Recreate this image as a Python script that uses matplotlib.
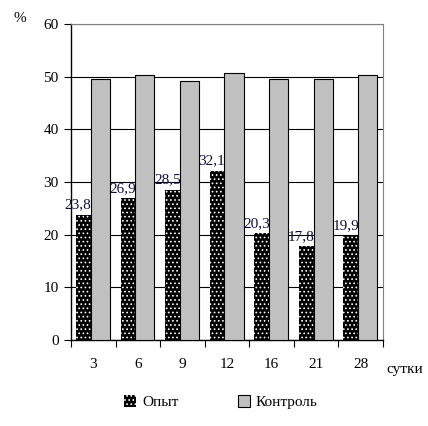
import numpy as np
import matplotlib.pyplot as plt

plt.rcParams['font.family'] = ['Liberation Serif', 'DejaVu Serif']
plt.rcParams['hatch.linewidth'] = 0.7

days = ['3', '6', '9', '12', '16', '21', '28']
opyt = [23.8, 26.9, 28.5, 32.1, 20.3, 17.8, 19.9]
kontrol = [49.5, 50.2, 49.2, 50.6, 49.6, 49.5, 50.2]
labels = ['23,8', '26,9', '28,5', '32,1', '20,3', '17,8', '19,9']

fig = plt.figure(figsize=(4.28, 4.26), dpi=100)
ax = fig.add_axes([0.166, 0.202, 0.729, 0.742])

x = np.arange(len(days))
bw = 0.33
gw = 0.43
left0 = -0.5 + 0.11

# black bars with fine white dots, grey bars with black outline
b1 = ax.bar(x + left0, opyt, width=bw, align='edge', color='black',
            edgecolor='white', linewidth=0, hatch='....', zorder=3)
b2 = ax.bar(x + left0 + bw, kontrol, width=gw, align='edge', color='#c0c0c0',
            edgecolor='black', linewidth=0.8, zorder=3)

for xi, v, t in zip(x, opyt, labels):
    ax.text(xi + left0 + 0.05, v + 0.6, t, ha='center', va='bottom',
            fontsize=11, color='#10103a', zorder=4)

ax.set_xlim(-0.5, len(days) - 0.5)
ax.set_ylim(0, 60)
ax.set_yticks(range(0, 61, 10))
ax.yaxis.grid(True, color='black', linewidth=0.8, zorder=0)
ax.set_xticks(np.arange(len(days) + 1) - 0.5)
ax.set_xticklabels([])
ax.set_xticks(x, minor=True)
ax.set_xticklabels(days, minor=True)
ax.tick_params(axis='x', which='minor', length=0, pad=13, labelsize=11)
ax.tick_params(axis='x', which='major', direction='out', length=5, width=0.8)
ax.tick_params(axis='y', direction='out', length=5, width=0.8, labelsize=11, pad=4)

for s in ['top', 'right']:
    ax.spines[s].set_color('#808080')
    ax.spines[s].set_linewidth(0.8)
for s in ['left', 'bottom']:
    ax.spines[s].set_linewidth(1.0)

fig.text(20 / 428, 1 - 18 / 426, '%', fontsize=11, ha='center', va='center')
fig.text(405 / 428, 1 - 369 / 426, 'сутки', fontsize=11, ha='center', va='center')

leg = fig.legend([b1, b2], ['Опыт', 'Контроль'], loc='center',
                 bbox_to_anchor=(221 / 428, 1 - 402 / 426), ncol=2, frameon=False,
                 fontsize=11, handlelength=0.8, handleheight=0.8,
                 handletextpad=0.4, columnspacing=3.85)

fig.savefig('out.png', dpi=100)
